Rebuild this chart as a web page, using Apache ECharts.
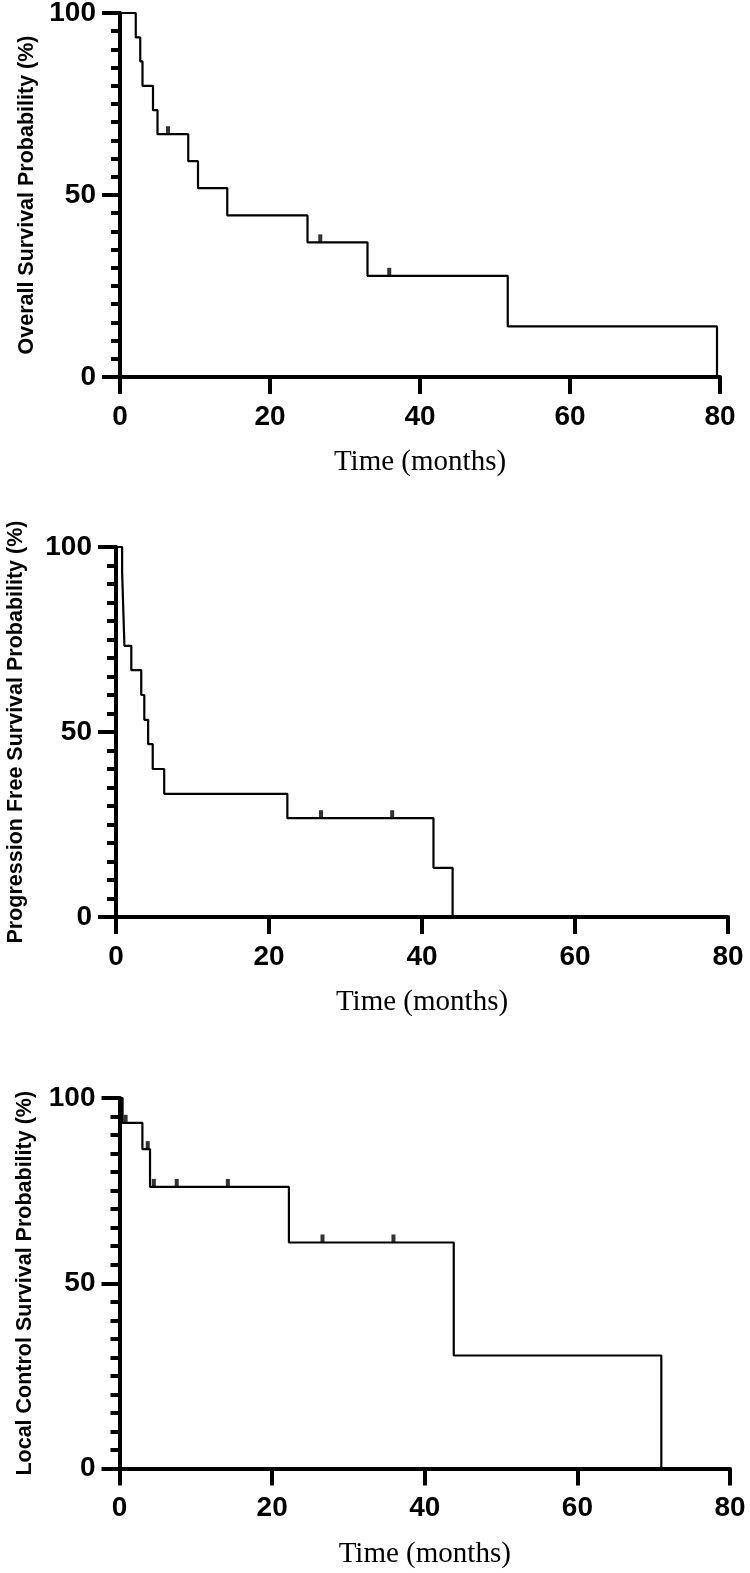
<!DOCTYPE html>
<html>
<head>
<meta charset="utf-8">
<script src="https://cdn.jsdelivr.net/npm/echarts@6/dist/echarts.min.js"></script>
<style>
  html, body { margin: 0; padding: 0; background: #fff; }
  #chart { width: 750px; height: 1573px; }
</style>
</head>
<body>
<div id="chart"></div>
<script>
// ---- Data ----
// Overall survival
const osTime = [0, 2.1, 2.7, 3.0, 4.4, 5.0, 9.1, 10.4, 14.3, 25.0, 33.0, 51.7, 79.6];
const osSurv = [100, 93.3, 86.7, 80.0, 73.3, 66.7, 59.3, 51.9, 44.4, 37.0, 27.8, 13.9, 0];
const osCensor = [6.4, 26.7, 35.9];
// Progression free survival
const pfsTime = [0, 0.8, 1.0, 1.1, 2.0, 3.3, 3.7, 4.2, 4.8, 6.3, 22.4, 41.5, 44.0];
const pfsSurv = [100, 93.3, 80.0, 73.3, 66.7, 60.0, 53.3, 46.7, 40.0, 33.3, 26.7, 13.3, 0];
const pfsCensor = [26.8, 36.1];
// Local control survival
const lcTime = [0, 0.4, 3.0, 4.0, 22.2, 43.8, 71.0];
const lcSurv = [100, 93.3, 86.2, 76.0, 61.0, 30.5, 0];
const lcCensor = [0.8, 3.7, 4.5, 7.5, 14.2, 26.6, 35.9];

const xTicks = [0, 20, 40, 60, 80];
const yTicks = [0, 50, 100];

const yTitles = [
  'Overall Survival Probability (%)',
  'Progression Free Survival Probability (%)',
  'Local Control Survival Probability (%)'
];
const xTitle = 'Time (months)';

// ---- Helpers ----
function pairs(t, s) { return t.map((v, i) => [v, s[i]]); }
function survAt(t, s, x) {
  let v = s[0];
  for (let i = 0; i < t.length; i++) { if (t[i] <= x) v = s[i]; }
  return v;
}
function censorPts(t, s, c) { return c.map(x => [x, survAt(t, s, x)]); }

const panels = [
  { t: osTime, s: osSurv, c: osCensor, grid: { left: 120, top: 13, width: 600, height: 364 }, yGap: 78 },
  { t: pfsTime, s: pfsSurv, c: pfsCensor, grid: { left: 116, top: 547, width: 612, height: 370 }, yGap: 89 },
  { t: lcTime, s: lcSurv, c: lcCensor, grid: { left: 119.5, top: 1098, width: 610.5, height: 370.5 }, yGap: 83 }
];

const FONT = 'Liberation Sans, Arial, sans-serif';
const SERIF = 'Liberation Serif, Times New Roman, serif';

const option = {
  backgroundColor: '#fff',
  animation: false,
  grid: panels.map(p => Object.assign({ outerBoundsMode: 'none', containLabel: false }, p.grid)),
  xAxis: panels.map((p, i) => ({
    type: 'value', gridIndex: i, min: xTicks[0], max: xTicks[xTicks.length - 1], interval: 20,
    axisLine: { show: true, onZero: false, lineStyle: { color: '#000', width: 4 } },
    axisTick: { show: true, length: 17, lineStyle: { color: '#000', width: 4 } },
    axisLabel: { color: '#000', fontFamily: FONT, fontWeight: 'bold', fontSize: 28, margin: 26 },
    splitLine: { show: false },
    name: xTitle, nameLocation: 'middle', nameGap: 71,
    nameTextStyle: { color: '#000', fontFamily: SERIF, fontSize: 29 }
  })),
  yAxis: panels.map((p, i) => ({
    type: 'value', gridIndex: i, min: yTicks[0], max: yTicks[yTicks.length - 1], interval: 50,
    axisLine: { show: true, onZero: false, lineStyle: { color: '#000', width: 4 } },
    axisTick: { show: true, length: 18, lineStyle: { color: '#000', width: 4 } },
    minorTick: { show: true, splitNumber: 10, length: 9, lineStyle: { color: '#000', width: 4 } },
    axisLabel: { color: '#000', fontFamily: FONT, fontWeight: 'bold', fontSize: 28, margin: 24 },
    splitLine: { show: false },
    minorSplitLine: { show: false },
    name: yTitles[i], nameLocation: 'middle', nameGap: p.yGap, nameRotate: 90,
    nameTextStyle: { color: '#000', fontFamily: FONT, fontWeight: 'bold', fontSize: 21.5 }
  })),
  series: []
};

panels.forEach((p, i) => {
  option.series.push({
    type: 'line', xAxisIndex: i, yAxisIndex: i, step: 'end',
    data: pairs(p.t, p.s), showSymbol: false, symbol: 'none',
    lineStyle: { color: '#000', width: 2.2 }, z: 3
  });
  option.series.push({
    type: 'scatter', xAxisIndex: i, yAxisIndex: i,
    data: censorPts(p.t, p.s, p.c),
    symbol: 'rect', symbolSize: [4, 8], symbolOffset: [0, -4],
    itemStyle: { color: '#000' }, z: 4
  });
});

const chart = echarts.init(document.getElementById('chart'), null, { renderer: 'canvas' });
chart.setOption(option);
</script>
</body>
</html>
